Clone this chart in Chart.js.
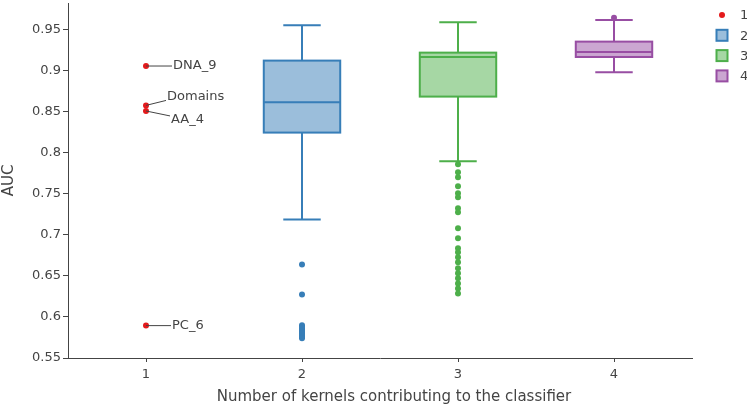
<!DOCTYPE html>
<html>
<head>
<meta charset="utf-8">
<script src="https://cdn.jsdelivr.net/npm/chart.js@4.4.1/dist/chart.umd.min.js"></script>
<style>
  body { margin: 0; background: #fff; }
</style>
</head>
<body>
<canvas id="chart" width="747" height="410"></canvas>
<script>
// number of kernels contributing to the classifier
const groups = [1, 2, 3, 4];
const groupColors = ['#e41a1c', '#377eb8', '#4daf4a', '#984ea3'];

// box statistics (group 1 has only single points)
const lowerFence = [null, 0.7184, 0.7894, 0.8977];
const q1 = [null, 0.8243, 0.8681, 0.9163];
const median = [null, 0.8612, 0.9163, 0.9224];
const q3 = [null, 0.9119, 0.9216, 0.9350];
const upperFence = [null, 0.9549, 0.9585, 0.9613];

// single kernel classifiers
const singleValues = [0.9053, 0.8574, 0.8506, 0.5894];
const singleNames = ['DNA_9', 'Domains', 'AA_4', 'PC_6'];

// outliers
const outliers2 = [0.6637, 0.6272, 0.590, 0.588, 0.586, 0.584, 0.582, 0.580, 0.578, 0.576, 0.574];
const outliers3 = [0.7857, 0.7760, 0.7699, 0.7589, 0.7504, 0.7455, 0.7322, 0.7273, 0.7078, 0.6957,
                   0.6835, 0.6786, 0.6725, 0.6664, 0.6591, 0.6530, 0.6469, 0.6408, 0.6347, 0.6286];
const outliers4 = [0.9642];

const yTicks = [0.55, 0.6, 0.65, 0.7, 0.75, 0.8, 0.85, 0.9, 0.95];
const xTicks = [1, 2, 3, 4];
const xTitle = 'Number of kernels contributing to the classifier';

const FONT = 'DejaVu Sans';
const TEXT = '#444';

// label offsets in pixels from the point (like plotly ax/ay)
const labelOffsets = [[27, 0], [21, -9], [25, 9], [26, 0]];

function alpha(hex, a) {
    const n = parseInt(hex.slice(1), 16);
    return `rgba(${n >> 16},${(n >> 8) & 255},${n & 255},${a})`;
}

const boxPlugin = {
    id: 'boxes',
    beforeDatasetsDraw(chart) {
        const { ctx, scales: { x, y } } = chart;
        ctx.save();
        ctx.lineWidth = 2;
        groups.forEach((g, i) => {
            if (q1[i] == null) return;
            const xc = x.getPixelForValue(g);
            const left = x.getPixelForValue(g - 0.245);
            const right = x.getPixelForValue(g + 0.245);
            const capL = x.getPixelForValue(g - 0.12);
            const capR = x.getPixelForValue(g + 0.12);
            const yq1 = y.getPixelForValue(q1[i]);
            const yq3 = y.getPixelForValue(q3[i]);
            const ym = y.getPixelForValue(median[i]);
            const ylo = y.getPixelForValue(lowerFence[i]);
            const yhi = y.getPixelForValue(upperFence[i]);

            ctx.fillStyle = alpha(groupColors[i], 0.5);
            ctx.strokeStyle = groupColors[i];
            ctx.fillRect(left, yq3, right - left, yq1 - yq3);
            ctx.strokeRect(left, yq3, right - left, yq1 - yq3);

            ctx.beginPath();
            ctx.moveTo(left, ym); ctx.lineTo(right, ym);
            ctx.moveTo(xc, yq3); ctx.lineTo(xc, yhi);
            ctx.moveTo(xc, yq1); ctx.lineTo(xc, ylo);
            ctx.moveTo(capL, yhi); ctx.lineTo(capR, yhi);
            ctx.moveTo(capL, ylo); ctx.lineTo(capR, ylo);
            ctx.stroke();
        });
        ctx.restore();
    },
    afterDatasetsDraw(chart) {
        const { ctx, scales: { x, y } } = chart;
        ctx.save();
        ctx.font = `13px "${FONT}"`;
        ctx.fillStyle = TEXT;
        ctx.strokeStyle = TEXT;
        ctx.lineWidth = 1;
        ctx.textBaseline = 'middle';
        singleValues.forEach((v, i) => {
            const px = x.getPixelForValue(groups[0]);
            const py = y.getPixelForValue(v);
            const [dx, dy] = labelOffsets[i];
            ctx.beginPath();
            ctx.moveTo(px, py);
            ctx.lineTo(px + dx - 1, py + dy * 0.55);
            ctx.stroke();
            ctx.fillText(singleNames[i], px + dx, py + dy);
        });

        // legend
        const lx = 722, ly0 = 15, step = 20.3;
        groups.forEach((g, i) => {
            const cy = ly0 + i * step;
            if (i === 0) {
                ctx.fillStyle = groupColors[0];
                ctx.beginPath();
                ctx.arc(lx, cy, 3, 0, Math.PI * 2);
                ctx.fill();
            } else {
                ctx.fillStyle = alpha(groupColors[i], 0.5);
                ctx.strokeStyle = groupColors[i];
                ctx.lineWidth = 2;
                ctx.fillRect(lx - 5.5, cy - 5.5, 11, 11);
                ctx.strokeRect(lx - 5.5, cy - 5.5, 11, 11);
            }
            ctx.fillStyle = TEXT;
            ctx.fillText(String(g), 740, cy + 1);
        });

        // x axis title
        ctx.font = `15px "${FONT}"`;
        ctx.textAlign = 'center';
        ctx.fillText(xTitle, (x.left + x.right) / 2 + 14, 397);
        ctx.restore();
    }
};

const pts = (g, arr) => arr.map(v => ({ x: g, y: v }));

new Chart(document.getElementById('chart'), {
    type: 'scatter',
    data: {
        datasets: [
            { label: '1', data: pts(1, singleValues), backgroundColor: groupColors[0] },
            { label: '2', data: pts(2, outliers2), backgroundColor: groupColors[1] },
            { label: '3', data: pts(3, outliers3), backgroundColor: groupColors[2] },
            { label: '4', data: pts(4, outliers4), backgroundColor: groupColors[3] }
        ]
    },
    options: {
        responsive: false,
        animation: false,
        layout: { padding: { right: 55, top: 0, left: 0, bottom: 0 } },
        elements: { point: { radius: 3, borderWidth: 0, hoverRadius: 3 } },
        plugins: { legend: { display: false }, tooltip: { enabled: false } },
        scales: {
            x: {
                type: 'linear',
                min: 0.5,
                max: 4.5,
                afterBuildTicks: s => { s.ticks = xTicks.map(v => ({ value: v })); },
                afterFit: s => { s.height = 52; s.paddingLeft = 0; s.paddingRight = 0; },
                ticks: { callback: v => String(v), color: TEXT, font: { family: FONT, size: 13 }, padding: 5 },
                grid: { display: true, drawOnChartArea: false, drawTicks: true, tickLength: 4, color: TEXT },
                border: { display: true, color: TEXT, width: 1 }
            },
            y: {
                min: 0.55,
                max: 0.982,
                afterBuildTicks: s => { s.ticks = yTicks.map(v => ({ value: v })); },
                afterFit: s => { s.width = 68; s.paddingTop = 0; s.paddingBottom = 0; },
                ticks: { callback: v => String(Math.round(v * 100) / 100), color: TEXT, font: { family: FONT, size: 13 }, padding: 2 },
                grid: { display: true, drawOnChartArea: false, drawTicks: true, tickLength: 5, color: TEXT },
                border: { display: true, color: TEXT, width: 1 },
                title: {
                    display: true,
                    text: 'AUC',
                    color: TEXT,
                    font: { family: FONT, size: 15 },
                    padding: 0
                }
            }
        }
    },
    plugins: [boxPlugin]
});
</script>
</body>
</html>
